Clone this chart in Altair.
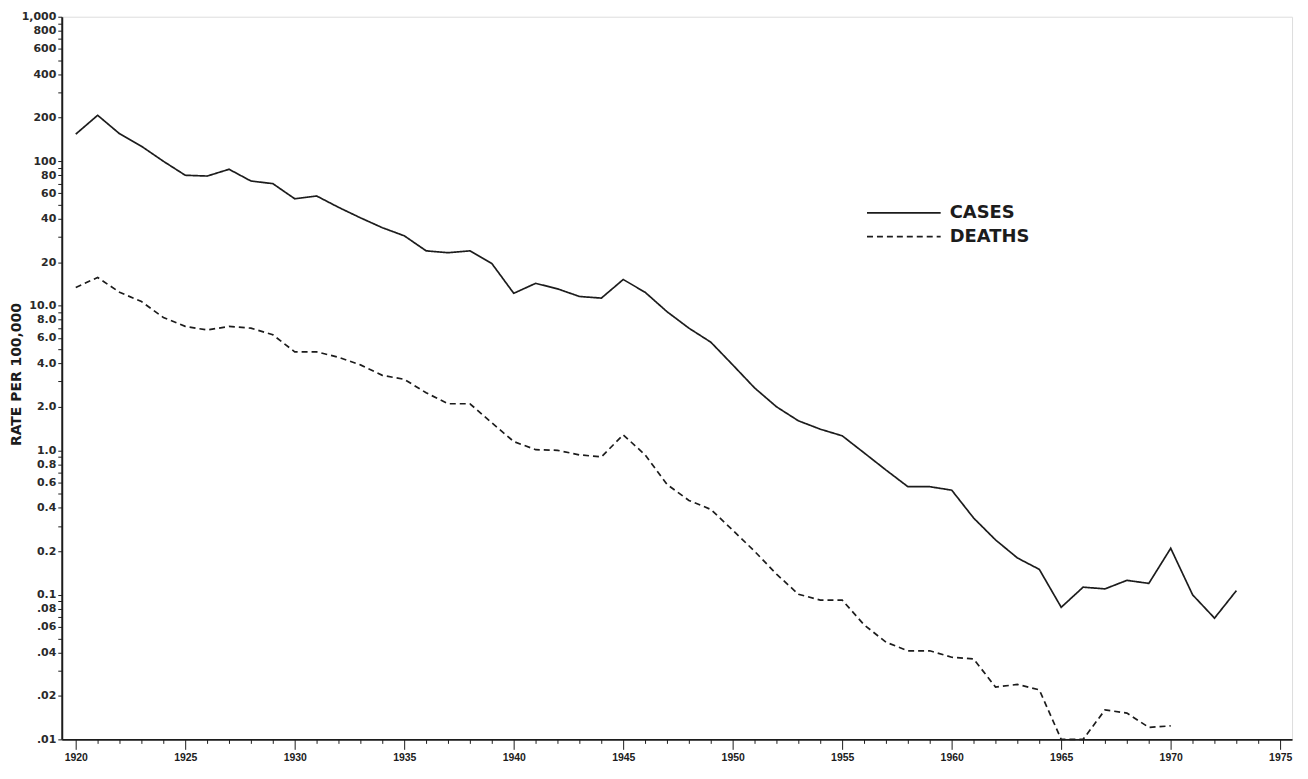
import altair as alt
import pandas as pd

# ---------------- data ----------------
case_years = list(range(1920, 1974))
case_rates = [154, 208, 155, 127, 100, 80, 79, 88, 73, 70,
              55, 57.5, 48, 40.6, 34.7, 30.5, 24, 23.3, 24, 19.6,
              12.2, 14.3, 13.1, 11.6, 11.3, 15.2, 12.4, 9.1, 7.0, 5.6,
              3.9, 2.7, 2.0, 1.6, 1.4, 1.26, 0.96, 0.73, 0.56, 0.56,
              0.53, 0.34, 0.24, 0.18, 0.15, 0.082, 0.113, 0.11, 0.126, 0.12,
              0.21, 0.10, 0.069, 0.107]

death_years = list(range(1920, 1971))
death_rates = [13.4, 15.7, 12.4, 10.7, 8.3, 7.2, 6.8, 7.2, 7.0, 6.3,
               4.8, 4.8, 4.4, 3.9, 3.3, 3.1, 2.5, 2.1, 2.1, 1.55,
               1.15, 1.01, 1.0, 0.93, 0.9, 1.28, 0.93, 0.58, 0.45, 0.39,
               0.28, 0.20, 0.139, 0.101, 0.092, 0.092, 0.062, 0.047, 0.041, 0.041,
               0.037, 0.036, 0.023, 0.024, 0.022, 0.01, 0.01, 0.016, 0.0152, 0.0121,
               0.0124]

series_names = ["CASES", "DEATHS"]

x_tick_years = list(range(1920, 1976))

y_tick_values = [0.01, 0.02, 0.03, 0.04, 0.05, 0.06, 0.07, 0.08, 0.09,
                 0.1, 0.2, 0.3, 0.4, 0.5, 0.6, 0.7, 0.8, 0.9,
                 1, 2, 3, 4, 5, 6, 7, 8, 9,
                 10, 20, 30, 40, 50, 60, 70, 80, 90,
                 100, 200, 300, 400, 500, 600, 700, 800, 900, 1000]
y_label_values = [0.01, 0.02, 0.04, 0.06, 0.08, 0.1, 0.2, 0.4, 0.6, 0.8,
                  1, 2, 4, 6, 8, 10, 20, 40, 60, 80, 100, 200, 400, 600, 800, 1000]
y_label_texts = [".01", ".02", ".04", ".06", ".08", "0.1", "0.2", "0.4", "0.6", "0.8",
                 "1.0", "2.0", "4.0", "6.0", "8.0", "10.0", "20", "40", "60", "80",
                 "100", "200", "400", "600", "800", "1,000"]

# ---------------- table ----------------
df = pd.concat([
    pd.DataFrame({"year": case_years, "rate": case_rates, "series": series_names[0]}),
    pd.DataFrame({"year": death_years, "rate": death_rates, "series": series_names[1]}),
], ignore_index=True)

# label expression for the log axis
expr = "''"
for v, t in reversed(list(zip(y_label_values, y_label_texts))):
    expr = f"abs(datum.value - {v}) < {v * 1e-6} ? '{t}' : ({expr})"

INK = "#1c1c1c"
FONT = "Liberation Sans"
WIDE = "DejaVu Sans"

x_axis = alt.Axis(
    values=x_tick_years,
    format="d",
    labelExpr="datum.value % 5 === 0 ? datum.label : ''",
    tickSize={"condition": {"test": "datum.value % 5 === 0", "value": 10}, "value": 4},
    tickColor=INK,
    tickWidth=1,
    labelFlush=False,
    labelPadding=3,
    labelFont=FONT,
    labelFontSize=10.5,
    labelFontWeight="bold",
    labelColor=INK,
    domainColor=INK,
    domainWidth=2,
    grid=False,
    title=None,
)

y_axis = alt.Axis(
    values=y_tick_values,
    labelExpr=expr,
    tickSize=4,
    tickColor=INK,
    tickWidth=1,
    labelPadding=2,
    labelFont=WIDE,
    labelFontSize=11,
    labelFontWeight="bold",
    labelColor="#2a2a2a",
    labelFlush=False,
    labelOverlap=False,
    domainColor=INK,
    domainWidth=2,
    grid=False,
    title="RATE PER 100,000",
    titleFont=WIDE,
    titleFontSize=14,
    titleFontWeight="bold",
    titleColor=INK,
    titleAngle=-90,
    titleX=-45,
    titleY=359,
    titleAlign="center",
    titleBaseline="middle",
)

chart = alt.Chart(df).mark_line(strokeWidth=1.7, color=INK).encode(
    x=alt.X("year:Q", scale=alt.Scale(domain=[1919.36, 1975.54], nice=False, zero=False), axis=x_axis),
    y=alt.Y("rate:Q", scale=alt.Scale(type="log", domain=[0.01, 1000], nice=False, clamp=True), axis=y_axis),
    strokeDash=alt.StrokeDash(
        "series:N",
        scale=alt.Scale(domain=series_names, range=[[1, 0], [6, 4]]),
        legend=alt.Legend(
            title=None,
            orient="none",
            legendX=808,
            legendY=187,
            symbolType="stroke",
            symbolSize=5476,
            symbolStrokeWidth=1.7,
            symbolStrokeColor=INK,
            labelFont=WIDE,
            labelFontSize=18,
            labelFontWeight="bold",
            labelColor=INK,
            labelOffset=8,
            clipHeight=20,
            rowPadding=4,
            padding=0,
        ),
    ),
    detail="series:N",
).properties(
    width=1236,
    height=726,
    autosize=alt.AutoSizeParams(type="none"),
    padding={"left": 54, "top": 7, "right": 8, "bottom": 30},
).configure_view(stroke=None).configure(background="white")

chart.save("out.html", embed_options={"renderer": "svg", "actions": False})
